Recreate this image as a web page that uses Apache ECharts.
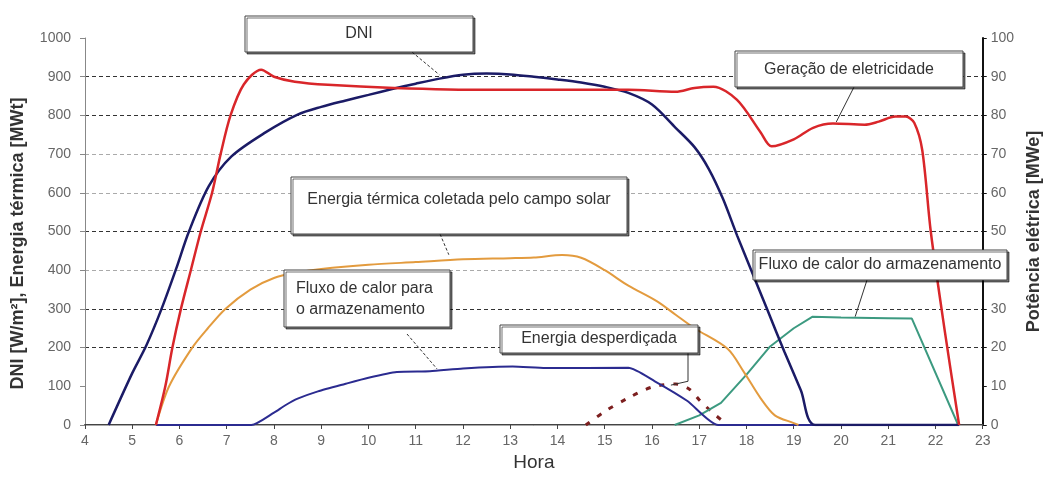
<!DOCTYPE html>
<html>
<head>
<meta charset="utf-8">
<script src="https://cdn.jsdelivr.net/npm/echarts@6/dist/echarts.min.js"></script>
<style>
  html, body { margin: 0; padding: 0; background: #fff; }
  #chart { width: 1051px; height: 477px; }
</style>
</head>
<body>
<div id="chart"></div>
<script>
// Hour axis ticks (4h .. 23h)
const hourTicks = [4,5,6,7,8,9,10,11,12,13,14,15,16,17,18,19,20,21,22,23];
const leftTicks = [0,100,200,300,400,500,600,700,800,900,1000];
const rightTicks = [0,10,20,30,40,50,60,70,80,90,100];

// DNI [W/m2]
const dniHours  = [4.5, 5.0, 5.3, 5.62, 5.93, 6.2, 6.62, 7.1, 7.82, 8.5, 9.0, 9.5, 10.0, 10.5, 11.0, 11.5, 12.0, 12.5, 13.0, 13.5, 14.0, 14.5, 15.0, 15.5, 16.0, 16.5, 16.9, 17.2, 17.5, 17.8, 18.1, 18.45, 18.8, 19.15, 19.46, 22.5];
const dniValues = [0, 134, 206, 300, 404, 500, 617, 694, 756, 802, 822, 838, 853, 868, 882, 895, 905, 908, 906, 900, 893, 885, 874, 858, 828, 768, 718, 662, 585, 490, 400, 295, 190, 90, 0, 0];

// Geração de eletricidade [MWe]
const genHours  = [5.5, 5.7, 5.85, 6.03, 6.24, 6.45, 6.69, 6.87, 7.08, 7.36, 7.73, 8.0, 8.44, 9.14, 10.54, 12.5, 13.75, 15.5, 16.5, 16.9, 17.3, 17.8, 18.3, 18.53, 19.0, 19.41, 19.83, 20.5, 20.8, 21.15, 21.37, 21.55, 21.72, 21.9, 22.2, 22.5];
const genValues = [0, 10, 20, 30, 40, 50, 60, 70, 80, 88, 91.8, 90, 88.7, 87.9, 87.1, 86.6, 86.6, 86.6, 86.1, 87.1, 87.4, 84, 75.6, 72, 73.8, 76.8, 77.9, 77.6, 78.4, 79.7, 79.7, 78.1, 71, 50, 24, 0];

// Energia térmica coletada pelo campo solar [MWt]
const solarHours  = [5.5, 5.78, 6.27, 6.6, 6.97, 7.5, 8.0, 8.5, 9.0, 10.0, 11.0, 12.0, 13.0, 13.5, 14.1, 14.5, 15.0, 15.5, 16.1, 16.5, 16.9, 17.6, 17.95, 18.3, 18.6, 19.0, 19.1];
const solarValues = [0, 100, 200, 250, 300, 350, 380, 394, 403, 414, 421, 428, 431, 433, 439, 432, 400, 360, 320, 285, 250, 197, 136, 69, 25, 5, 0];

// Fluxo de calor para o armazenamento [MWt]
const toStoreHours  = [5.5, 7.52, 8.0, 8.24, 8.5, 8.93, 9.5, 10.0, 10.6, 11.3, 12.0, 13.05, 13.75, 15.5, 16.06, 16.75, 17.4, 22.5];
const toStoreValues = [0, 0, 32, 51, 68, 87, 106, 122, 137, 139, 146, 151, 147, 148, 113, 62, 0, 0];

// Fluxo de calor do armazenamento [MWt]
const fromStoreHours  = [16.48, 17.0, 17.46, 18.0, 18.5, 19.0, 19.4, 20.0, 21.0, 21.5, 22.48];
const fromStoreValues = [0, 25, 57, 130, 203, 250, 280, 278, 276, 275, 0];

// Energia desperdiçada [MWt]
const wasteHours  = [14.6, 15.0, 15.5, 16.0, 16.5, 16.8, 17.0, 17.3, 17.6];
const wasteValues = [0, 35, 70, 98, 106, 92, 65, 30, 0];

function pairs(xs, ys) { return xs.map((x, i) => [x, ys[i]]); }

const FONT = '"Liberation Sans", Arial, sans-serif';
const gridColors = ['rgba(0,0,0,0)', 'rgba(0,0,0,0)', '#333', '#333', '#aaa', '#333', '#aaa', '#aaa', '#333', '#333', 'rgba(0,0,0,0)'];

const chart = echarts.init(document.getElementById('chart'), null, { renderer: 'canvas' });

chart.setOption({
  animation: false,
  backgroundColor: '#fff',
  grid: { left: 85, right: 61, top: 38, bottom: 50, containLabel: false },
  xAxis: [{
    type: 'value', min: hourTicks[0], max: hourTicks[hourTicks.length - 1], interval: 1,
    position: 'bottom',
    name: 'Hora', nameLocation: 'middle', nameGap: 28,
    nameTextStyle: { fontFamily: FONT, fontSize: 19, color: '#333' },
    axisLine: { lineStyle: { color: '#444', width: 2 } },
    axisTick: { show: true, length: 4, lineStyle: { color: '#444' } },
    axisLabel: { fontFamily: FONT, fontSize: 14, color: '#666', margin: 9, formatter: (v) => String(v) },
    splitLine: { show: false }
  }, {
    type: 'value', min: hourTicks[0], max: hourTicks[hourTicks.length - 1], interval: 1,
    position: 'top',
    axisLine: { lineStyle: { color: '#aaa', width: 1 } },
    axisTick: { show: false }, axisLabel: { show: false }, splitLine: { show: false }
  }],
  yAxis: [{
    type: 'value', min: leftTicks[0], max: leftTicks[leftTicks.length - 1], interval: 100,
    position: 'left',
    name: 'DNI [W/m²], Energia térmica [MWt]', nameLocation: 'middle', nameGap: 58,
    nameTextStyle: { fontFamily: FONT, fontSize: 18, fontWeight: 'bold', color: '#333', padding: [0, 24, 0, 0] },
    axisLine: { show: true, lineStyle: { color: '#888', width: 1 } },
    axisTick: { show: true, length: 5, lineStyle: { color: '#888' } },
    axisLabel: { fontFamily: FONT, fontSize: 14, color: '#666', margin: 14, formatter: (v) => String(v) },
    splitLine: { show: true, lineStyle: { color: gridColors, type: [4, 3], width: 1 } }
  }, {
    type: 'value', min: rightTicks[0], max: rightTicks[rightTicks.length - 1], interval: 10,
    position: 'right',
    name: 'Potência elétrica [MWe]', nameLocation: 'middle', nameGap: 40,
    nameTextStyle: { fontFamily: FONT, fontSize: 18, fontWeight: 'bold', color: '#333' },
    axisLine: { show: true, lineStyle: { color: '#111', width: 2 } },
    axisTick: { show: true, length: 4, lineStyle: { color: '#111' } },
    axisLabel: { fontFamily: FONT, fontSize: 14, color: '#666', margin: 8, formatter: (v) => String(v) },
    splitLine: { show: false }
  }],
  series: [
    { name: 'Energia desperdiçada', type: 'line', data: pairs(wasteHours, wasteValues), smooth: 0.3, showSymbol: false,
      lineStyle: { color: '#7d1f1f', width: 3, type: [5, 9] }, z: 3 },
    { name: 'Fluxo de calor do armazenamento', type: 'line', data: pairs(fromStoreHours, fromStoreValues), showSymbol: false,
      lineStyle: { color: '#3c9a80', width: 2 }, z: 3 },
    { name: 'Fluxo de calor para o armazenamento', type: 'line', data: pairs(toStoreHours, toStoreValues), smooth: 0.2, showSymbol: false,
      lineStyle: { color: '#2b2b90', width: 2 }, z: 4 },
    { name: 'Energia térmica coletada pelo campo solar', type: 'line', data: pairs(solarHours, solarValues), smooth: 0.3, showSymbol: false,
      lineStyle: { color: '#e39b3e', width: 2 }, z: 4 },
    { name: 'DNI', type: 'line', data: pairs(dniHours, dniValues), smooth: 0.3, showSymbol: false,
      lineStyle: { color: '#1b1b66', width: 2.5 }, z: 5 },
    { name: 'Geração de eletricidade', type: 'line', yAxisIndex: 1, data: pairs(genHours, genValues), smooth: 0.3, showSymbol: false,
      lineStyle: { color: '#d9262a', width: 2.5 }, z: 5 }
  ]
});

// Callout boxes: box in pixels, leader line ending at a point given in axis units
const callouts = [
  { lines: ['DNI'], box: [245, 16, 228, 36], align: 'center', textY: 34, from: [412, 52], anchor: [11.5, 905], axis: 0, dash: [3, 2] },
  { lines: ['Geração de eletricidade'], box: [735, 51, 228, 36], align: 'center', textY: 70, from: [854, 87], anchor: [19.9, 78.3], axis: 1, dash: null },
  { lines: ['Energia térmica coletada pelo campo solar'], box: [291, 177, 336, 57], align: 'center', textY: 200, from: [440, 234], anchor: [11.7, 440], axis: 0, dash: [3, 2] },
  { lines: ['Fluxo de calor para', 'o armazenamento'], box: [284, 270, 166, 57], align: 'left', textX: 296, textY: 289, from: [407, 334], anchor: [11.45, 145], axis: 0, dash: [3, 2] },
  { lines: ['Energia desperdiçada'], box: [500, 325, 198, 28], align: 'center', textY: 339, from: [688, 353], bend: 113, anchor: [16.4, 103], axis: 0, dash: null },
  { lines: ['Fluxo de calor do armazenamento'], box: [753, 250, 254, 30], align: 'center', textY: 265, from: [867, 280], anchor: [20.3, 280], axis: 0, dash: null }
];

function buildCallouts() {
  const els = [];
  callouts.forEach((c) => {
    const finder = { xAxisIndex: 0, yAxisIndex: c.axis };
    const end = chart.convertToPixel(finder, c.anchor);
    const pts = [c.from];
    if (c.bend !== undefined) {
      const mid = chart.convertToPixel({ xAxisIndex: 0, yAxisIndex: 0 }, [c.anchor[0], c.bend]);
      pts.push([c.from[0], mid[1]]);
    }
    pts.push(end);
    els.push({
      type: 'polyline', z: 100, silent: true,
      shape: { points: pts },
      style: { stroke: '#333', lineWidth: 1, fill: null, lineDash: c.dash || null }
    });
    const [bx, by, bw, bh] = c.box;
    els.push({
      type: 'rect', z: 101, silent: true,
      shape: { x: bx, y: by, width: bw, height: bh },
      style: { fill: '#fff', stroke: '#444', lineWidth: 1,
               shadowColor: 'rgba(0,0,0,0.55)', shadowOffsetX: 2, shadowOffsetY: 2, shadowBlur: 0 }
    });
    c.lines.forEach((t, i) => {
      const x = c.align === 'center' ? bx + bw / 2 : c.textX;
      els.push({
        type: 'text', z: 102, silent: true,
        x: x, y: c.textY + i * 21,
        style: { text: t, font: '16px ' + FONT, fill: '#333',
                 align: c.align, verticalAlign: 'middle' }
      });
    });
  });
  chart.setOption({ graphic: { elements: els } });
}
buildCallouts();
</script>
</body>
</html>
